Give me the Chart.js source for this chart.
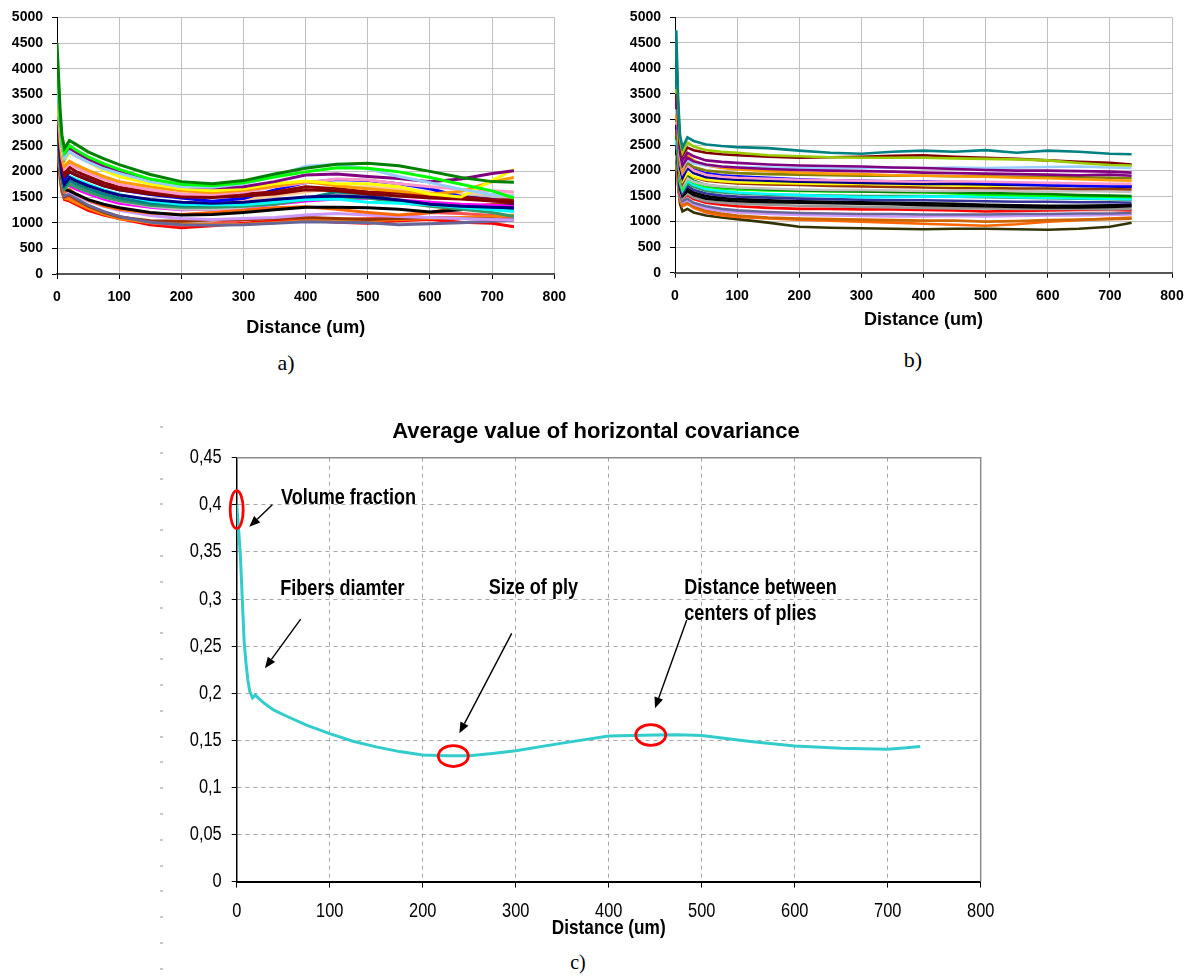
<!DOCTYPE html>
<html>
<head>
<meta charset="utf-8">
<script src="https://cdn.jsdelivr.net/npm/chart.js@4.4.0/dist/chart.umd.min.js"></script>
<style>
  body { margin: 0; background: #fff; width: 1195px; height: 979px; position: relative; overflow: hidden; }
  canvas { position: absolute; }
  #chartA { left: 0; top: 0; }
  #chartB { left: 600px; top: 0; }
  #chartC { left: 160px; top: 410px; }
  .caption { position: absolute; font-family: "Liberation Serif", "Times New Roman", serif; transform: translate(-50%, -50%); color: #000; }
  .dashes { position: absolute; left: 160px; top: 426px; width: 3px; height: 552px;
            background: repeating-linear-gradient(to bottom, #c8c8c8 0 2px, transparent 2px 25.8px); }
</style>
</head>
<body>
<canvas id="chartA" width="590" height="345"></canvas>
<canvas id="chartB" width="595" height="345"></canvas>
<div class="dashes"></div>
<canvas id="chartC" width="880" height="530"></canvas>
<div class="caption" style="left:286px; top:363px; font-size:22px;">a)</div>
<div class="caption" style="left:913px; top:360px; font-size:22px;">b)</div>
<div class="caption" style="left:578px; top:962px; font-size:20px;">c)</div>
<script>
// distance samples shared by the a) and b) curves (um)
const distAB = [0, 2, 5, 8, 12, 20, 30, 50, 75, 100, 150, 200, 250, 300, 350, 400, 450, 500, 550, 600, 650, 700, 735];

// a) one row per curve
const curvesA = [
  [4500, 4000, 3200, 2700, 2450, 2600, 2530, 2380, 2250, 2130, 1940, 1800, 1760, 1820, 1950, 2060, 2140, 2160, 2110, 2000, 1880, 1800, 1790],
  [4200, 3800, 3000, 2600, 2350, 2500, 2420, 2280, 2150, 2040, 1850, 1750, 1720, 1780, 1890, 1990, 2070, 2060, 1990, 1880, 1750, 1620, 1480],
  [3900, 3500, 2900, 2500, 2250, 2380, 2300, 2180, 2050, 1960, 1800, 1700, 1690, 1760, 1900, 2100, 2140, 2050, 1900, 1780, 1650, 1550, 1520],
  [4100, 3600, 2900, 2500, 2250, 2450, 2380, 2240, 2100, 1990, 1810, 1710, 1680, 1700, 1800, 1930, 1950, 1900, 1860, 1800, 1850, 1960, 2010],
  [3800, 3400, 2800, 2400, 2200, 2360, 2300, 2180, 2020, 1900, 1760, 1660, 1620, 1660, 1760, 1810, 1760, 1760, 1700, 1560, 1500, 1820, 2040],
  [3700, 3300, 2700, 2300, 2100, 2200, 2130, 2020, 1900, 1800, 1700, 1620, 1590, 1630, 1710, 1800, 1720, 1660, 1610, 1560, 1610, 1800, 1880],
  [3600, 3200, 2600, 2250, 2050, 2150, 2080, 1970, 1850, 1750, 1640, 1560, 1550, 1600, 1700, 1780, 1850, 1830, 1760, 1700, 1650, 1620, 1600],
  [3500, 3100, 2500, 2200, 1950, 2080, 2000, 1900, 1780, 1690, 1600, 1540, 1520, 1560, 1600, 1700, 1660, 1600, 1580, 1520, 1500, 1450, 1440],
  [3400, 3000, 2450, 2100, 1900, 2000, 1930, 1830, 1720, 1640, 1560, 1500, 1490, 1520, 1560, 1640, 1620, 1560, 1520, 1480, 1460, 1420, 1400],
  [3300, 2900, 2400, 2050, 1850, 1990, 1930, 1840, 1720, 1640, 1550, 1480, 1420, 1470, 1640, 1780, 1840, 1820, 1760, 1660, 1510, 1450, 1400],
  [3200, 2800, 2300, 1950, 1750, 1880, 1820, 1720, 1620, 1540, 1450, 1400, 1380, 1400, 1450, 1500, 1520, 1500, 1440, 1360, 1320, 1300, 1290],
  [3600, 3100, 2500, 2100, 1850, 1900, 1850, 1750, 1640, 1550, 1420, 1360, 1350, 1350, 1400, 1450, 1460, 1400, 1380, 1350, 1300, 1250, 1220],
  [3100, 2700, 2200, 1900, 1700, 1820, 1760, 1660, 1560, 1480, 1380, 1340, 1350, 1380, 1430, 1470, 1600, 1560, 1420, 1360, 1320, 1290, 1260],
  [3000, 2600, 2150, 1850, 1650, 1750, 1700, 1600, 1500, 1430, 1340, 1300, 1300, 1320, 1360, 1450, 1500, 1480, 1400, 1320, 1260, 1200, 1120],
  [3400, 2900, 2350, 2000, 1800, 1780, 1700, 1600, 1500, 1420, 1320, 1260, 1260, 1300, 1380, 1480, 1560, 1580, 1560, 1540, 1520, 1510, 1500],
  [3300, 2800, 2300, 1950, 1750, 1720, 1660, 1560, 1460, 1380, 1300, 1250, 1260, 1300, 1360, 1420, 1460, 1480, 1440, 1400, 1360, 1340, 1320],
  [3500, 3000, 2400, 2050, 1850, 1900, 1830, 1720, 1600, 1520, 1420, 1380, 1400, 1450, 1520, 1600, 1680, 1700, 1650, 1600, 1560, 1550, 1540],
  [3200, 2700, 2200, 1850, 1650, 1620, 1560, 1450, 1360, 1290, 1200, 1150, 1160, 1200, 1250, 1300, 1300, 1290, 1260, 1210, 1250, 1340, 1350],
  [3000, 2600, 2100, 1800, 1600, 1650, 1560, 1440, 1330, 1260, 1190, 1160, 1200, 1250, 1290, 1310, 1260, 1200, 1150, 1200, 1300, 1360, 1400],
  [3100, 2600, 2100, 1800, 1600, 1600, 1540, 1420, 1320, 1240, 1140, 1080, 1060, 1080, 1100, 1150, 1180, 1150, 1120, 1100, 1080, 1060, 1050],
  [2900, 2500, 2000, 1700, 1520, 1560, 1480, 1340, 1220, 1120, 1010, 960, 950, 960, 990, 1020, 1010, 1000, 960, 980, 1000, 1030, 1050],
  [2800, 2400, 1950, 1650, 1500, 1540, 1460, 1320, 1200, 1110, 1040, 1030, 1050, 1060, 1080, 1100, 1080, 1060, 1080, 1100, 1080, 1070, 1050],
  [2750, 2350, 1900, 1620, 1480, 1450, 1390, 1280, 1170, 1080, 1000, 980, 960, 970, 1000, 1040, 1050, 1040, 1060, 1080, 1100, 1120, 1150],
  [2900, 2500, 2000, 1700, 1550, 1500, 1420, 1300, 1190, 1120, 1000, 950, 980, 1050, 1080, 1100, 1060, 1080, 1110, 1200, 1180, 1140, 1100],
  [2700, 2300, 1850, 1600, 1450, 1420, 1360, 1240, 1150, 1080, 960, 900, 940, 990, 1040, 1050, 1010, 990, 1040, 1060, 1010, 990, 920]
];
const paletteA = ['#008000', '#00ff00', '#99ccff', '#800080', '#ffff00', '#ff9900', '#ff99cc', '#8b0000', '#800000',
  '#0000ff', '#000080', '#00ffff', '#008080', '#339966', '#c0c0c0', '#ff00ff', '#ffcc99', '#000000', '#ff6600',
  '#cc99ff', '#666699', '#993300', '#ff8000', '#ff5050', '#ff0000'];

// b) one row per curve
const curvesB = [
  [3600, 4750, 3400, 2700, 2450, 2650, 2580, 2510, 2480, 2460, 2440, 2390, 2350, 2330, 2370, 2390, 2370, 2400, 2350, 2390, 2370, 2330, 2320],
  [3500, 4500, 3300, 2600, 2350, 2550, 2470, 2400, 2370, 2350, 2300, 2280, 2260, 2250, 2250, 2250, 2240, 2230, 2220, 2200, 2150, 2110, 2100],
  [3400, 4200, 3200, 2550, 2300, 2450, 2400, 2350, 2320, 2300, 2270, 2250, 2260, 2270, 2290, 2300, 2270, 2250, 2230, 2200, 2170, 2150, 2120],
  [3300, 4350, 3100, 2450, 2200, 2350, 2280, 2200, 2170, 2150, 2120, 2100, 2090, 2080, 2060, 2050, 2030, 2010, 2000, 2000, 1990, 1980, 1960],
  [3200, 4100, 3000, 2350, 2100, 2250, 2180, 2120, 2080, 2060, 2030, 2010, 2000, 1990, 1980, 1960, 1950, 1940, 1930, 1920, 1910, 1920, 1900],
  [3100, 4000, 2900, 2300, 2080, 2200, 2140, 2100, 2080, 2070, 2060, 2050, 2040, 2050, 2060, 2050, 2060, 2050, 2060, 2070, 2080, 2060, 2050],
  [3000, 3900, 2850, 2250, 2000, 2300, 2200, 2100, 2050, 2020, 1990, 1960, 1940, 1930, 1910, 1900, 1890, 1880, 1860, 1850, 1830, 1810, 1800],
  [2950, 3800, 2800, 2200, 1980, 2150, 2070, 2000, 1970, 1950, 1930, 1920, 1910, 1900, 1900, 1900, 1890, 1890, 1880, 1880, 1870, 1860, 1850],
  [2900, 3700, 2700, 2150, 1950, 2100, 2000, 1920, 1880, 1860, 1840, 1820, 1810, 1800, 1790, 1780, 1790, 1780, 1770, 1760, 1750, 1740, 1740],
  [2900, 4100, 2750, 2150, 1900, 2100, 2020, 1950, 1910, 1890, 1860, 1830, 1810, 1800, 1790, 1790, 1780, 1760, 1740, 1720, 1700, 1700, 1690],
  [2800, 3500, 2600, 2050, 1850, 2050, 1950, 1870, 1840, 1820, 1800, 1780, 1770, 1760, 1750, 1740, 1740, 1730, 1720, 1710, 1700, 1690, 1680],
  [2800, 3600, 2600, 2000, 1800, 1950, 1880, 1820, 1790, 1770, 1760, 1750, 1740, 1740, 1730, 1720, 1710, 1700, 1720, 1750, 1730, 1700, 1710],
  [2700, 3400, 2500, 1950, 1750, 1950, 1870, 1800, 1770, 1750, 1730, 1720, 1700, 1690, 1680, 1670, 1660, 1660, 1650, 1650, 1640, 1640, 1630],
  [2700, 3300, 2450, 1900, 1700, 1850, 1780, 1720, 1690, 1670, 1650, 1630, 1620, 1620, 1610, 1600, 1600, 1610, 1600, 1590, 1600, 1590, 1580],
  [2600, 3300, 2400, 1850, 1700, 1900, 1800, 1720, 1680, 1660, 1630, 1610, 1600, 1590, 1580, 1580, 1570, 1560, 1550, 1540, 1520, 1510, 1500],
  [2600, 3200, 2350, 1800, 1650, 1850, 1760, 1690, 1650, 1630, 1610, 1600, 1590, 1590, 1580, 1570, 1550, 1530, 1520, 1510, 1500, 1490, 1480],
  [2500, 3100, 2300, 1780, 1620, 1800, 1720, 1640, 1600, 1570, 1540, 1520, 1500, 1480, 1480, 1490, 1490, 1500, 1480, 1470, 1460, 1450, 1440],
  [2500, 3000, 2250, 1750, 1600, 1750, 1680, 1600, 1570, 1550, 1530, 1520, 1510, 1500, 1500, 1500, 1490, 1480, 1470, 1460, 1450, 1440, 1430],
  [2400, 3000, 2200, 1700, 1550, 1700, 1620, 1550, 1510, 1490, 1470, 1450, 1440, 1430, 1420, 1420, 1410, 1400, 1390, 1390, 1380, 1380, 1370],
  [2400, 3500, 2150, 1700, 1550, 1650, 1570, 1500, 1460, 1440, 1420, 1400, 1390, 1380, 1370, 1360, 1350, 1330, 1320, 1310, 1310, 1320, 1320],
  [2300, 3300, 2100, 1650, 1500, 1600, 1520, 1450, 1420, 1400, 1380, 1370, 1360, 1350, 1340, 1320, 1310, 1300, 1290, 1280, 1280, 1290, 1300],
  [2200, 3100, 2000, 1600, 1450, 1550, 1470, 1400, 1370, 1350, 1330, 1310, 1300, 1290, 1280, 1270, 1260, 1260, 1250, 1250, 1250, 1240, 1250],
  [2200, 3000, 1950, 1550, 1450, 1520, 1440, 1370, 1330, 1300, 1270, 1250, 1250, 1240, 1240, 1230, 1220, 1200, 1210, 1220, 1230, 1230, 1220],
  [2100, 2900, 1900, 1500, 1400, 1450, 1370, 1300, 1250, 1220, 1190, 1170, 1160, 1150, 1150, 1140, 1140, 1140, 1150, 1150, 1160, 1160, 1170],
  [2100, 2800, 1850, 1480, 1380, 1420, 1340, 1260, 1210, 1180, 1150, 1130, 1120, 1110, 1100, 1100, 1110, 1100, 1110, 1120, 1120, 1130, 1140],
  [2000, 2700, 1800, 1450, 1350, 1380, 1300, 1220, 1160, 1120, 1080, 1060, 1050, 1040, 1030, 1020, 1020, 1000, 1010, 1030, 1040, 1050, 1060],
  [2000, 2600, 1750, 1400, 1300, 1350, 1270, 1180, 1120, 1090, 1060, 1040, 1020, 1000, 980, 960, 940, 920, 950, 1000, 1030, 1060, 1080],
  [1900, 2500, 1700, 1350, 1200, 1250, 1180, 1120, 1080, 1050, 980, 900, 880, 870, 860, 850, 860, 860, 850, 840, 860, 900, 980]
];
const paletteB = ['#008080', '#99cc00', '#800000', '#800080', '#800080', '#99ccff', '#ff9900', '#808000', '#ff99cc',
  '#0000ff', '#000080', '#ffff00', '#993300', '#c0c0c0', '#008000', '#00ff00', '#00ffff', '#339966', '#333399',
  '#000000', '#000000', '#969696', '#ff0000', '#666699', '#cc99ff', '#cc6600', '#ff6600', '#333300'];

// c) average horizontal covariance
const distC = [0, 2, 4, 6, 8, 10, 12, 14, 17, 20, 23, 30, 40, 55, 75, 100, 125, 150, 175, 200, 225, 250, 275, 300,
  350, 400, 450, 475, 500, 550, 600, 650, 700, 720, 735];
const covC = [0.400, 0.375, 0.345, 0.300, 0.255, 0.232, 0.214, 0.202, 0.195, 0.198, 0.195, 0.189, 0.182, 0.175, 0.166,
  0.157, 0.149, 0.143, 0.138, 0.1345, 0.1335, 0.1335, 0.136, 0.139, 0.147, 0.1545, 0.1556, 0.156, 0.155, 0.149,
  0.144, 0.1415, 0.1405, 0.142, 0.1435];

// c) callouts, in data units
const noteLines = [['Volume fraction'], ['Fibers diamter'], ['Size of ply'], ['Distance between', 'centers of plies']];
const noteX = [47.6, 46.9, 271, 481.3];
const noteY = [0.4075, 0.3105, 0.3116, 0.3113];
const arrowFromX = [38.3, 68.8, 295.7, 483.9];
const arrowFromY = [0.400, 0.2787, 0.2635, 0.2777];
const arrowToX = [13.5, 30.4, 239.4, 449.8];
const arrowToY = [0.3766, 0.2264, 0.1574, 0.1839];
const ringX = [0, 232.9, 445.2];
const ringY = [0.3948, 0.1333, 0.1556];

const sansFam = '"Liberation Sans", Arial, sans-serif';

function spreadChart(id, curves, palette, lineW, yWidth, xHeight, padRight, titlePad) {
  const tickFont = { family: sansFam, size: 14, weight: 'bold' };
  return new Chart(document.getElementById(id), {
    type: 'line',
    data: {
      datasets: curves.map((row, i) => ({
        data: row.map((v, j) => ({ x: distAB[j], y: v })),
        borderColor: palette[i % palette.length],
        borderWidth: lineW,
        pointRadius: 0
      }))
    },
    options: {
      responsive: false,
      animation: false,
      events: [],
      layout: { padding: { left: 0, top: 15, right: padRight, bottom: 0 } },
      plugins: { legend: { display: false }, tooltip: { enabled: false } },
      scales: {
        x: {
          type: 'linear', min: 0, max: 800,
          afterFit: s => { s.height = xHeight },
          ticks: { stepSize: 100, font: tickFont, color: '#000', padding: 10, callback: v => String(v) },
          grid: { color: '#c0c0c0', tickColor: '#000', tickLength: 5 },
          border: { color: '#555', width: 2 },
          title: {
            display: true, text: 'Distance (um)', color: '#000',
            font: { family: sansFam, size: 18, weight: 'bold' },
            padding: { top: 0, bottom: titlePad }
          }
        },
        y: {
          min: 0, max: 5000,
          afterFit: s => { s.width = yWidth },
          ticks: { stepSize: 500, font: tickFont, color: '#000', padding: 9, callback: v => String(v) },
          grid: { color: '#c0c0c0', tickColor: '#000', tickLength: 5 },
          border: { color: '#000', width: 1 }
        }
      }
    }
  });
}

spreadChart('chartA', curvesA, paletteA, 3, 57, 71, 35.7, 6.5);
spreadChart('chartB', curvesB, paletteB, 2.6, 75, 72.3, 23, 14.2);

// narrow (Arial Narrow look) text: squeeze a normal sans horizontally
function squeezedText(ctx, text, px, py, font, align) {
  ctx.save();
  ctx.translate(px, py);
  ctx.scale(0.82, 1);
  ctx.font = font;
  ctx.fillStyle = '#000';
  ctx.textAlign = align;
  ctx.textBaseline = 'middle';
  ctx.fillText(text, 0, 0);
  ctx.restore();
}

const framePlugin = {
  id: 'frame',
  beforeDatasetsDraw(chart) {
    const { ctx, chartArea: a } = chart;
    ctx.save();
    ctx.strokeStyle = '#8c8c8c';
    ctx.lineWidth = 1.5;
    ctx.beginPath();
    ctx.moveTo(a.left, a.top);
    ctx.lineTo(a.right, a.top);
    ctx.lineTo(a.right, a.bottom);
    ctx.stroke();
    ctx.restore();
  }
};

const labelsPlugin = {
  id: 'labelsC',
  afterDraw(chart) {
    const { ctx, scales: { x, y }, chartArea: a } = chart;
    x.ticks.forEach(t => squeezedText(ctx, String(t.value), x.getPixelForValue(t.value), a.bottom + 29.4, '20px ' + sansFam, 'center'));
    y.ticks.forEach(t => squeezedText(ctx, String(Math.round(t.value * 100) / 100).replace('.', ','),
      a.left - 15, y.getPixelForValue(t.value), '20px ' + sansFam, 'right'));
    squeezedText(ctx, 'Distance (um)', (a.left + a.right) / 2, a.bottom + 46.4, 'bold 21px ' + sansFam, 'center');

    ctx.save();
    ctx.font = 'bold 22px ' + sansFam;
    ctx.fillStyle = '#000';
    ctx.textAlign = 'center';
    ctx.textBaseline = 'middle';
    ctx.fillText('Average value of horizontal covariance', 436, a.top - 25.7);
    ctx.restore();
  }
};

const notesPlugin = {
  id: 'notes',
  afterDatasetsDraw(chart) {
    const { ctx, scales: { x, y } } = chart;
    const ringSize = [[6.5, 19], [15, 10.5], [15, 10.3]];
    ctx.save();

    ctx.strokeStyle = '#ff0000';
    ctx.lineWidth = 2.8;
    ringX.forEach((v, i) => {
      ctx.beginPath();
      ctx.ellipse(x.getPixelForValue(v), y.getPixelForValue(ringY[i]), ringSize[i][0], ringSize[i][1], 0, 0, Math.PI * 2);
      ctx.stroke();
    });

    ctx.strokeStyle = '#000';
    ctx.fillStyle = '#000';
    ctx.lineWidth = 1.4;
    arrowFromX.forEach((v, i) => {
      const x1 = x.getPixelForValue(v), y1 = y.getPixelForValue(arrowFromY[i]);
      const x2 = x.getPixelForValue(arrowToX[i]), y2 = y.getPixelForValue(arrowToY[i]);
      const ang = Math.atan2(y2 - y1, x2 - x1);
      const len = 11, half = 4.5;
      const bx = x2 - len * Math.cos(ang), by = y2 - len * Math.sin(ang);
      ctx.beginPath();
      ctx.moveTo(x1, y1);
      ctx.lineTo(bx, by);
      ctx.stroke();
      ctx.beginPath();
      ctx.moveTo(x2, y2);
      ctx.lineTo(bx + half * Math.sin(ang), by - half * Math.cos(ang));
      ctx.lineTo(bx - half * Math.sin(ang), by + half * Math.cos(ang));
      ctx.closePath();
      ctx.fill();
    });
    ctx.restore();

    noteLines.forEach((lines, i) => {
      lines.forEach((t, k) => {
        squeezedText(ctx, t, x.getPixelForValue(noteX[i]), y.getPixelForValue(noteY[i]) + k * 25.7, 'bold 22px ' + sansFam, 'left');
      });
    });
  }
};

new Chart(document.getElementById('chartC'), {
  type: 'line',
  data: {
    datasets: [{
      data: distC.map((d, i) => ({ x: d, y: covC[i] })),
      borderColor: '#33cccc',
      borderWidth: 3,
      pointRadius: 0
    }]
  },
  options: {
    responsive: false,
    animation: false,
    events: [],
    layout: { padding: { left: 0, top: 47.7, right: 59.3, bottom: 0 } },
    plugins: { legend: { display: false }, tooltip: { enabled: false } },
    scales: {
      x: {
        type: 'linear', min: 0, max: 800,
        afterFit: s => { s.height = 58.4 },
        ticks: { stepSize: 100, display: false },
        grid: { color: '#a6a6a6', tickColor: '#000', tickLength: 6 },
        border: { color: '#000', width: 2, dash: [4, 4] }
      },
      y: {
        min: 0, max: 0.45,
        afterFit: s => { s.width = 76.7 },
        ticks: { stepSize: 0.05, display: false },
        grid: { color: '#a6a6a6', tickColor: '#000', tickLength: 5 },
        border: { color: '#000', width: 1.5, dash: [4, 4] }
      }
    }
  },
  plugins: [framePlugin, notesPlugin, labelsPlugin]
});
</script>
</body>
</html>
